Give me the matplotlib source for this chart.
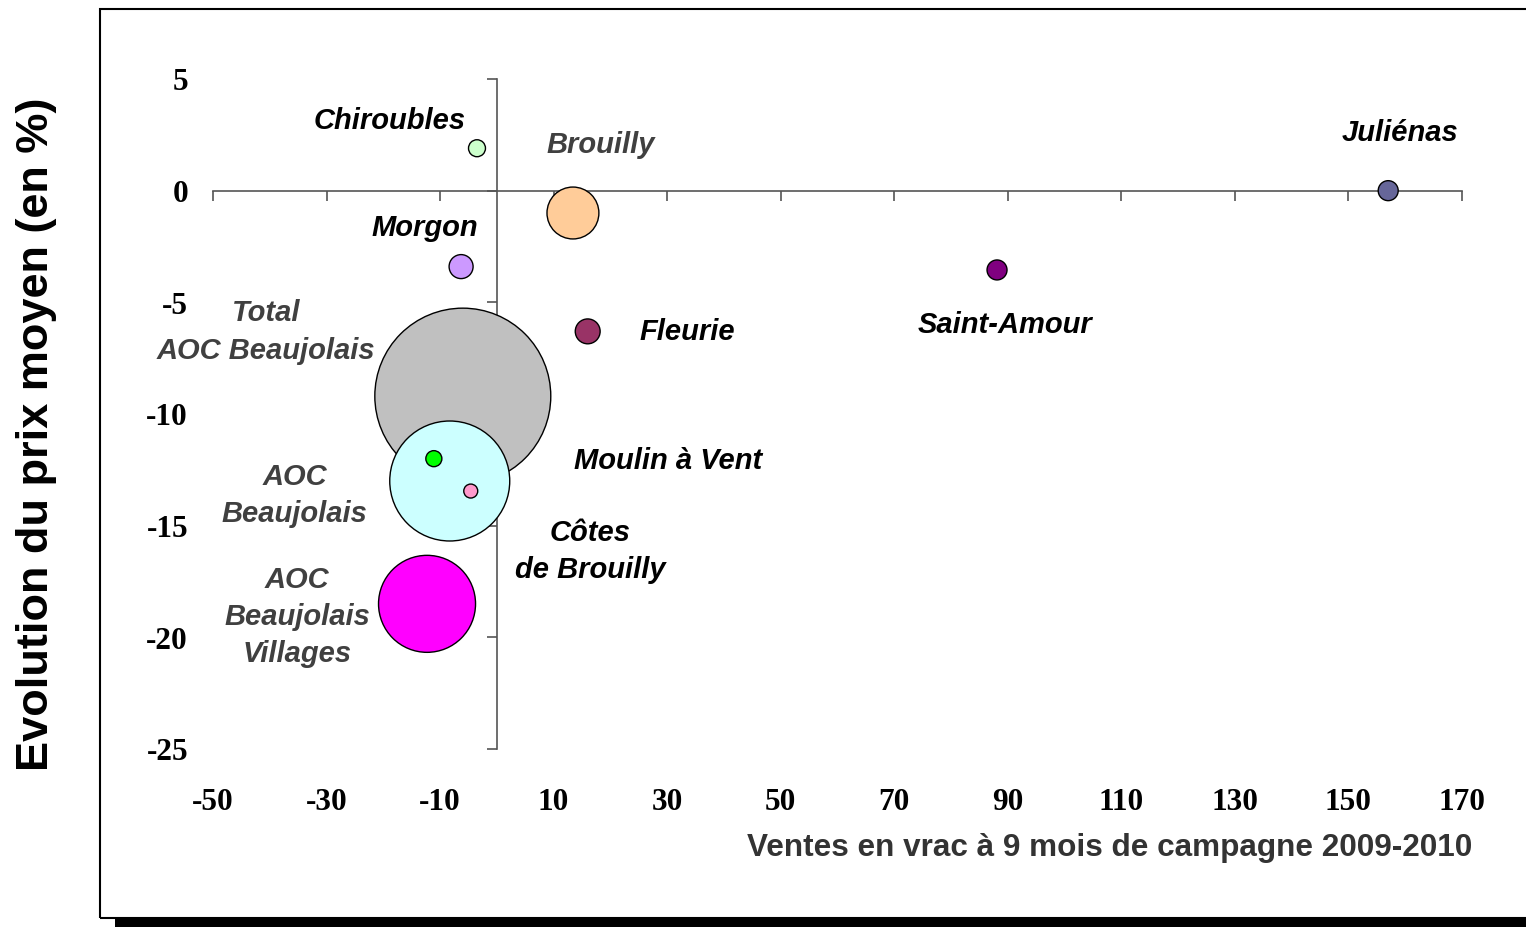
import matplotlib.pyplot as plt
from matplotlib.patches import Rectangle

# appellations du Beaujolais
noms = ['Total\nAOC Beaujolais', 'AOC\nBeaujolais', 'AOC\nBeaujolais\nVillages', 'Brouilly',
        'Juliénas', 'Saint-Amour', 'Fleurie', 'Morgon', 'Chiroubles', 'Moulin à Vent',
        'Côtes\nde Brouilly']
ventes = [-6.0, -8.3, -12.3, 13.4, 157.0, 88.1, 16.0, -6.3, -3.5, -11.1, -4.6]   # x, %
prix = [-9.2, -13.0, -18.5, -1.0, 0.0, -3.55, -6.3, -3.4, 1.9, -12.0, -13.45]    # y, %
volume = [100, 46.5, 30.4, 8.7, 1.29, 1.29, 2.0, 1.86, 0.93, 0.83, 0.63]         # taille bulle
couleurs = ['#C0C0C0', '#CCFFFF', '#FF00FF', '#FFCC99', '#666699', '#800080',
            '#993366', '#CC99FF', '#CCFFCC', '#00FF00', '#FF99CC']

# position des etiquettes (centre du texte, en unites des axes)
etiq_x = [-40.7, -35.6, -35.2, 18.3, 159.1, 89.5, 33.5, -12.7, -18.8, 30.1, 16.4]
etiq_y = [-6.28, -13.6, -19.05, 2.09, 2.63, -5.97, -6.3, -1.63, 3.16, -12.06, -16.1]
etiq_c = ['#404040', '#404040', '#404040', '#404040', 'black', 'black', 'black',
          'black', 'black', 'black', 'black']

xticks = list(range(-50, 171, 20))
yticks = list(range(-25, 6, 5))

fig = plt.figure(figsize=(15.26, 9.28), dpi=100)
ax = fig.add_axes([213/1526, 1-750/928, 1249/1526, 670/928])

k = 160.5
ax.scatter(ventes, prix, s=[v*k for v in volume], c=couleurs,
           edgecolors='black', linewidths=1.0, zorder=3)

# une ligne de texte par annotation (interligne ~27 pt comme dans Excel)
interligne = 26.8
for n, x, y, c in zip(noms, etiq_x, etiq_y, etiq_c):
    lignes = n.split('\n')
    for i, l in enumerate(lignes):
        dy = ((len(lignes) - 1) / 2 - i) * interligne
        ax.annotate(l, (x, y), xytext=(0, dy), textcoords='offset points',
                    ha='center', va='center', fontsize=21, fontweight='bold',
                    fontstyle='italic', family='Liberation Sans', color=c)

ax.set_xlim(-50, 170)
ax.set_ylim(-25, 5)
ax.spines['left'].set_position(('data', 0))
ax.spines['bottom'].set_position(('data', 0))
ax.spines['top'].set_visible(False)
ax.spines['right'].set_visible(False)
for sp in ['left', 'bottom']:
    ax.spines[sp].set_color('#555555')
    ax.spines[sp].set_linewidth(1.2)
ax.set_xticks(xticks)
ax.set_yticks(yticks)
ax.tick_params(direction='out', length=7, width=1.2, color='#555555',
               labelleft=False, labelbottom=False)

for t in yticks:
    ax.text(-0.02, t - 0.12, str(t), transform=ax.get_yaxis_transform(), ha='right',
            va='center', fontsize=22.5, fontweight='bold', family='Liberation Serif')
for t in xticks:
    ax.text(t, -0.079, str(t), transform=ax.get_xaxis_transform(), ha='center',
            va='center', fontsize=22.5, fontweight='bold', family='Liberation Serif')

ax.text(1.008, -0.147, 'Ventes en vrac à 9 mois de campagne 2009-2010',
        transform=ax.transAxes, ha='right', va='center', fontsize=22.7,
        fontweight='bold', family='Liberation Sans', color='#333333')
fig.text(37/1526, 1-434/928, 'Evolution du prix moyen (en %)', rotation=90,
         ha='center', va='center', fontsize=32.5, fontweight='bold',
         family='Liberation Sans')

# cadre et ombre
fig.patches.append(Rectangle((100/1526, 1-919/928), 1.0, (919-10)/928, fill=False,
                             edgecolor='black', linewidth=1.5,
                             transform=fig.transFigure, figure=fig))
fig.patches.append(Rectangle((115/1526, 0), 1.0, 9/928, facecolor='black',
                             edgecolor='none', transform=fig.transFigure, figure=fig))

fig.savefig('out.png', dpi=100)
